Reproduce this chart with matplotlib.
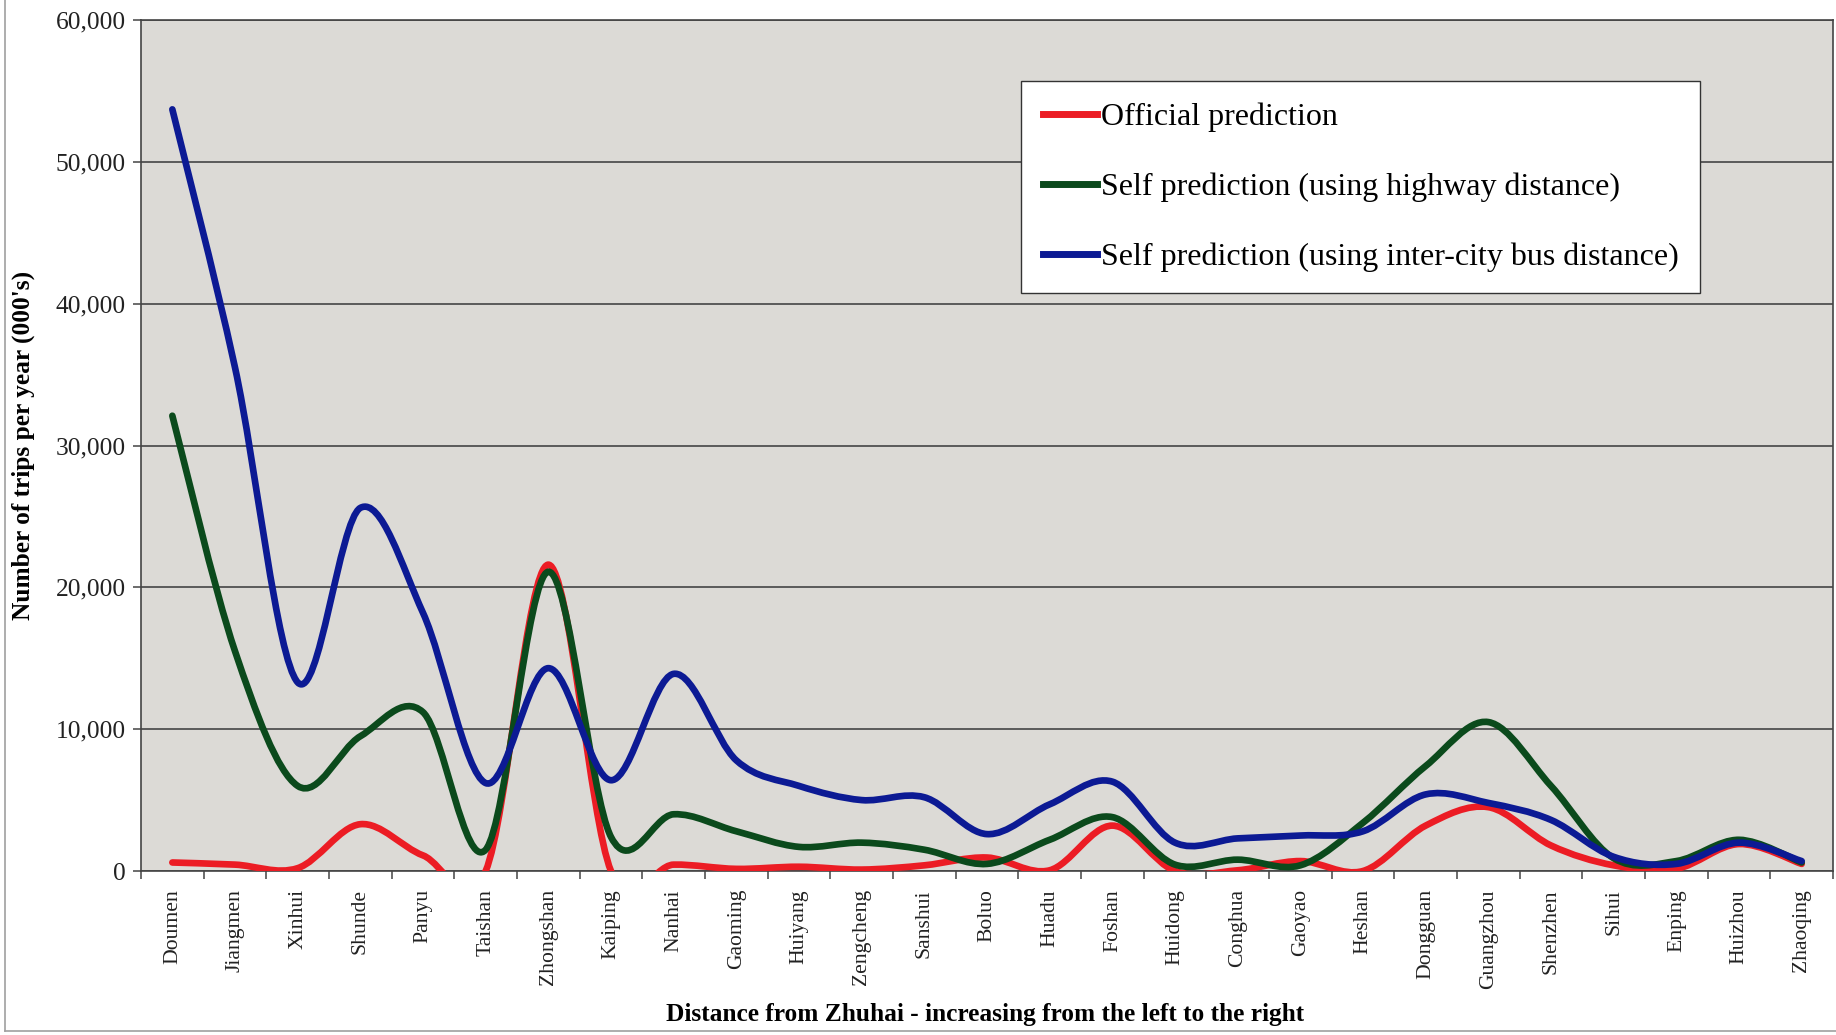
import numpy as np
import matplotlib
matplotlib.use("Agg")
import matplotlib.pyplot as plt
from matplotlib.path import Path
from matplotlib.patches import PathPatch
from matplotlib.lines import Line2D
from matplotlib.ticker import FuncFormatter, FixedLocator

# ==========================
# Data (000's trips per year)
# ==========================

cities = ["Doumen", "Jiangmen", "Xinhui", "Shunde", "Panyu", "Taishan",
          "Zhongshan", "Kaiping", "Nanhai", "Gaoming", "Huiyang", "Zengcheng",
          "Sanshui", "Boluo", "Huadu", "Foshan", "Huidong", "Conghua",
          "Gaoyao", "Heshan", "Dongguan", "Guangzhou", "Shenzhen", "Sihui",
          "Enping", "Huizhou", "Zhaoqing"]

official = [600, 450, 200, 3300, 1100, 0, 21600, 0, 450, 150, 300, 100,
            400, 950, 50, 3200, 0, 50, 700, 0, 3200, 4500, 1800, 400,
            150, 1900, 500]

highway = [32100, 15500, 6000, 9500, 11200, 1500, 21100, 2400, 4000, 2800,
           1700, 2000, 1500, 500, 2200, 3800, 450, 800, 400, 3400, 7400,
           10500, 6000, 900, 700, 2200, 600]

bus = [53700, 35500, 13300, 25600, 18200, 6200, 14300, 6400, 13900, 7800,
       6000, 5000, 5200, 2600, 4700, 6300, 2000, 2300, 2500, 2800, 5400,
       4800, 3600, 1000, 500, 2000, 700]

series_labels = ["Official prediction",
                 "Self prediction (using highway distance)",
                 "Self prediction (using inter-city bus distance)"]
colors = ["#ec1c24", "#0b4a1c", "#0c1a94"]

y_ticks = [0, 10000, 20000, 30000, 40000, 50000, 60000]

plt.rcParams["font.family"] = ["Liberation Serif", "DejaVu Serif"]


def smooth_path(x, y):
    # Excel-like smoothed line: cubic bezier through every point
    x = np.asarray(x, float)
    y = np.asarray(y, float)
    n = len(x)
    verts = [(x[0], y[0])]
    codes = [Path.MOVETO]
    for i in range(n - 1):
        a = max(i - 1, 0)
        b = min(i + 2, n - 1)
        c1 = (x[i] + (x[i + 1] - x[a]) / 6, y[i] + (y[i + 1] - y[a]) / 6)
        c2 = (x[i + 1] - (x[b] - x[i]) / 6, y[i + 1] - (y[b] - y[i]) / 6)
        verts += [c1, c2, (x[i + 1], y[i + 1])]
        codes += [Path.CURVE4] * 3
    return Path(verts, codes)


W, H = 1836, 1035
fig = plt.figure(figsize=(W / 100, H / 100), dpi=100)
fig.patch.set_facecolor("white")

left, right, top, bottom = 141, 1833, 20, 871
ax = fig.add_axes([left / W, 1 - bottom / H, (right - left) / W, (bottom - top) / H])
ax.set_facecolor("#dcdad6")

x = np.arange(len(cities))
for vals, col, z in zip([official, highway, bus], colors, [3, 4, 5]):
    patch = PathPatch(smooth_path(x, vals), facecolor="none", edgecolor=col,
                      lw=4.8, capstyle="round", joinstyle="round", zorder=z)
    ax.add_patch(patch)

ax.set_xlim(-0.5, len(cities) - 0.5)
ax.set_ylim(0, 60000)

ax.set_yticks(y_ticks)
ax.yaxis.set_major_formatter(FuncFormatter(lambda v, p: f"{int(v):,}"))
ax.yaxis.grid(True, color="#505050", lw=1.3)
ax.set_axisbelow(True)

ax.set_xticks(x)
ax.set_xticklabels(cities, rotation=90, fontsize=15.6, color="#222222")
ax.xaxis.set_minor_locator(FixedLocator(np.arange(-0.5, len(cities), 1.0)))
ax.tick_params(axis="x", which="major", length=0, pad=13)
ax.tick_params(axis="x", which="minor", length=6, width=1.1, color="#444444")
ax.tick_params(axis="y", length=6, width=1.1, color="#444444", pad=5,
               labelsize=18.4, labelcolor="#222222")

for s in ax.spines.values():
    s.set_color("#444444")
    s.set_linewidth(1.2)

fig.text(985 / W, 1 - 1014 / H,
         "Distance from Zhuhai - increasing from the left to the right",
         ha="center", va="center", fontsize=18.3, fontweight="bold")
fig.text(23 / W, 1 - 445 / H, "Number of trips per year (000's)",
         ha="center", va="center", rotation=90, fontsize=18.3, fontweight="bold")

handles = [Line2D([], [], color=c, lw=5) for c in colors]
leg = fig.legend(handles, series_labels, loc="upper left",
                 bbox_to_anchor=(1021 / W, 1 - 81 / H),
                 bbox_transform=fig.transFigure, borderaxespad=0,
                 frameon=True, fancybox=False, fontsize=23,
                 handlelength=1.7, handletextpad=0.12, labelspacing=1.26,
                 borderpad=0.68)
leg.get_frame().set_facecolor("white")
leg.get_frame().set_edgecolor("#333333")
leg.get_frame().set_linewidth(1.0)
leg.get_frame().set_alpha(1)

# faint border of the chart area
fig.add_artist(Line2D([5 / W, 5 / W], [1 - 1031 / H, 1], transform=fig.transFigure,
                      color="#a0a0a0", lw=1.2))
fig.add_artist(Line2D([5 / W, 1], [1 - 1031 / H, 1 - 1031 / H], transform=fig.transFigure,
                      color="#a0a0a0", lw=1.2))

fig.savefig("out.png", dpi=100)
plt.close(fig)
